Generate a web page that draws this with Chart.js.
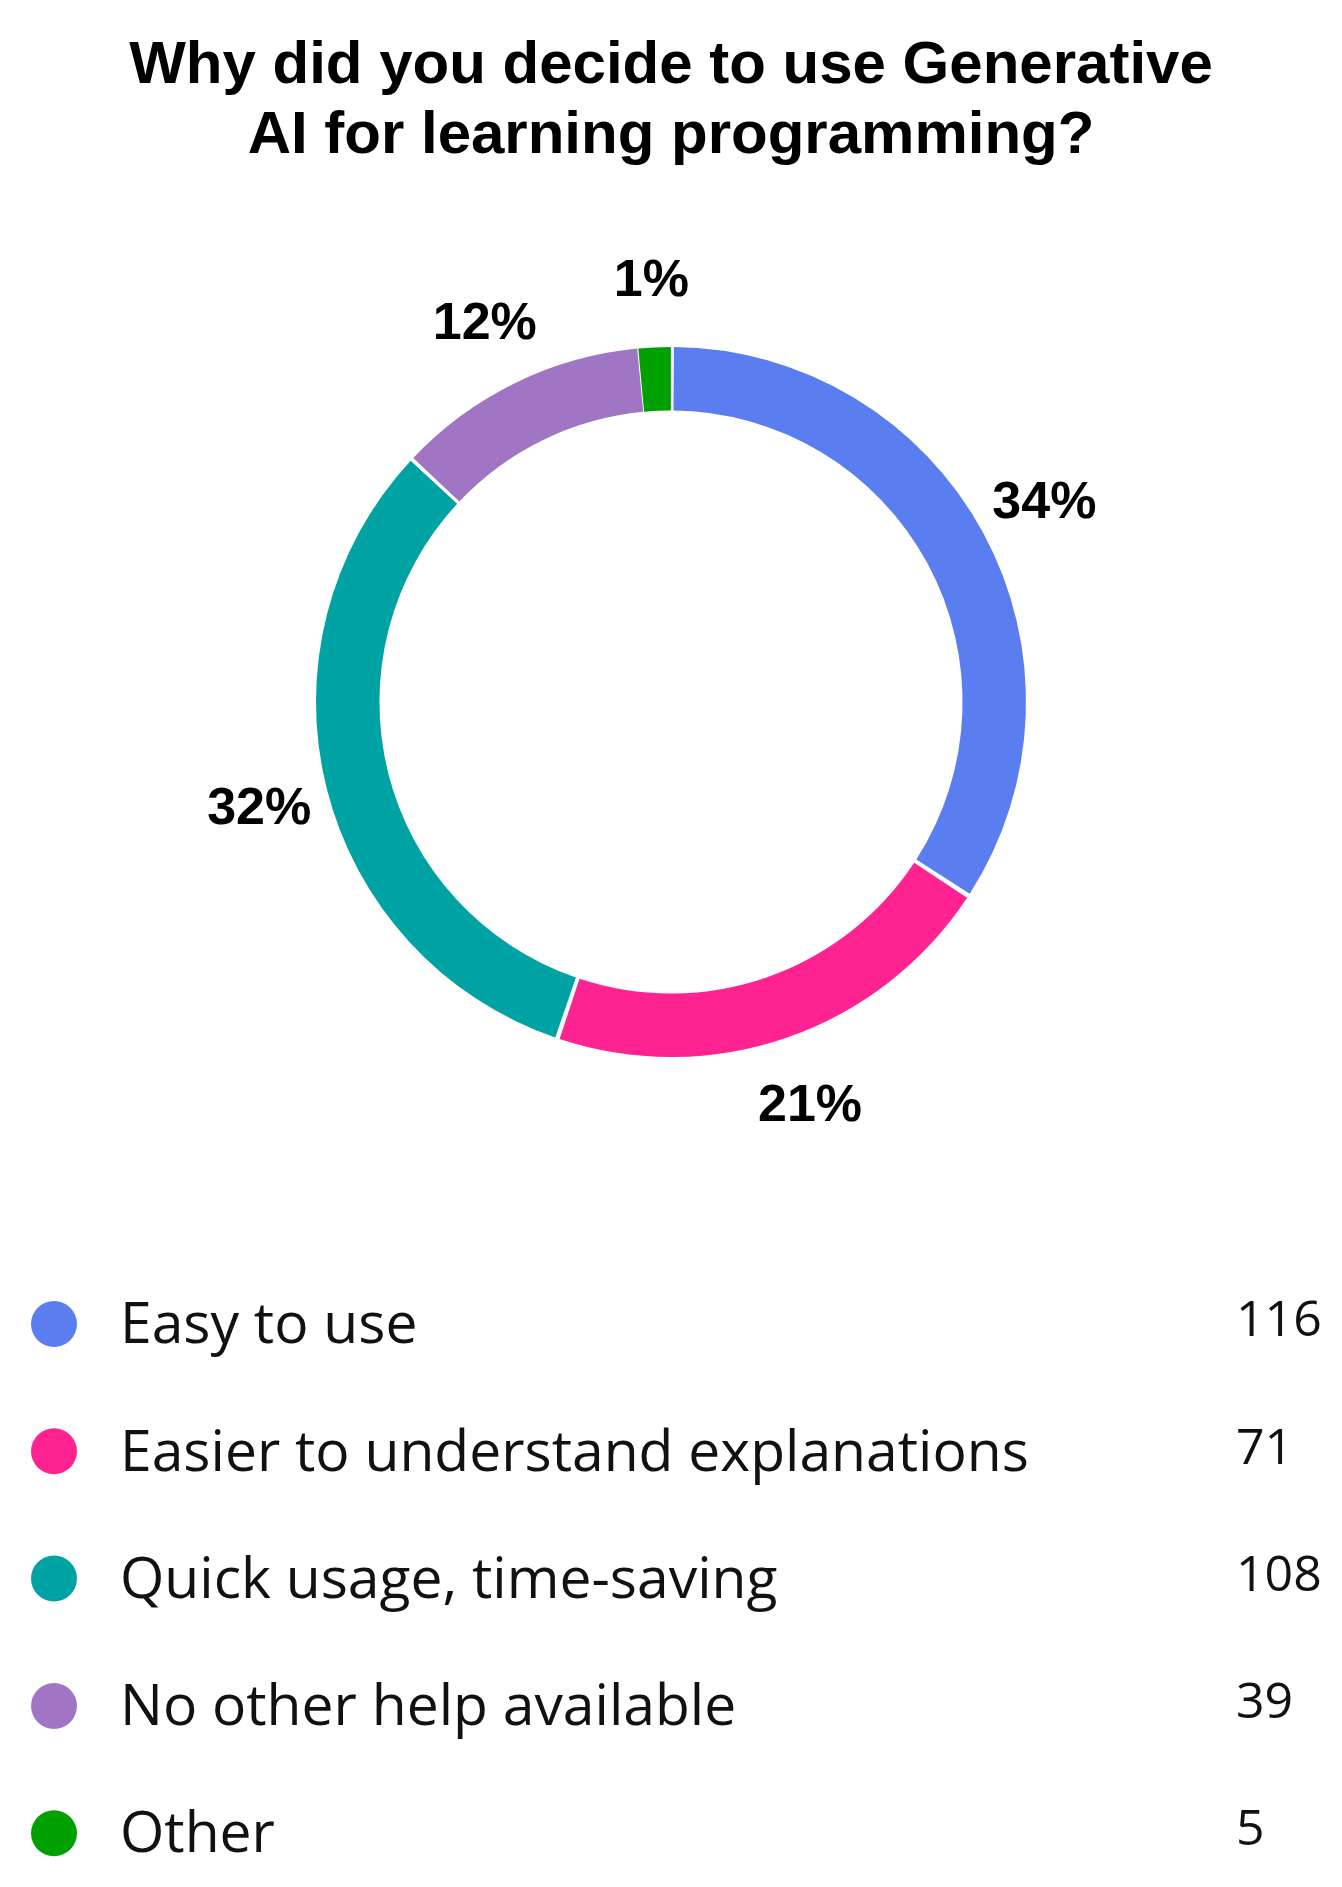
<!DOCTYPE html>
<html>
<head>
<meta charset="utf-8">
<script src="https://cdn.jsdelivr.net/npm/chart.js@4.4.1/dist/chart.umd.min.js"></script>
<style>
  html, body { margin: 0; padding: 0; background: #fff; }
  #wrap { width: 1342px; height: 1887px; position: relative; }
</style>
</head>
<body>
<div id="wrap"><canvas id="reasonChart"></canvas></div>
<script>
const titleLines = ['Why did you decide to use Generative', 'AI for learning programming?'];
const reasons = ['Easy to use', 'Easier to understand explanations', 'Quick usage, time-saving', 'No other help available', 'Other'];
const counts = [116, 71, 108, 39, 5];
const colors = ['#5A7DF0', '#FF2391', '#00A3A4', '#A076C4', '#00A000'];

const total = counts.reduce((a, b) => a + b, 0);

// percent labels outside the ring
const percentLabels = {
  id: 'percentLabels',
  afterDatasetsDraw(chart) {
    const ctx = chart.ctx;
    const meta = chart.getDatasetMeta(0);
    ctx.save();
    ctx.font = 'bold 52px "Liberation Sans", Arial, sans-serif';
    ctx.fillStyle = '#000';
    ctx.textAlign = 'center';
    ctx.textBaseline = 'middle';
    meta.data.forEach((arc, i) => {
      const p = arc.getProps(['x', 'y', 'startAngle', 'endAngle', 'outerRadius'], true);
      const mid = (p.startAngle + p.endAngle) / 2;
      const r = p.outerRadius + 72;
      const pct = Math.round(counts[i] / total * 100) + '%';
      ctx.fillText(pct, p.x + Math.cos(mid) * r, p.y + Math.sin(mid) * r + 4);
    });
    ctx.restore();
  }
};

// legend list with counts at the bottom
const listLegend = {
  id: 'listLegend',
  afterDraw(chart) {
    const ctx = chart.ctx;
    const top = 1324, step = 127.3;
    ctx.save();
    ctx.textBaseline = 'middle';
    reasons.forEach((name, i) => {
      const y = top + i * step;
      ctx.fillStyle = colors[i];
      ctx.beginPath();
      ctx.arc(54, y, 23, 0, Math.PI * 2);
      ctx.fill();
      ctx.fillStyle = '#111';
      ctx.textAlign = 'left';
      ctx.font = '57px "Open Sans", sans-serif';
      ctx.fillText(name, 120, y + 3);
      ctx.font = '50px "Open Sans", sans-serif';
      ctx.fillText(String(counts[i]), 1236, y - 2);
    });
    ctx.restore();
  }
};

const ctx = document.getElementById('reasonChart').getContext('2d');

new Chart(ctx, {
  type: 'doughnut',
  data: {
    labels: reasons,
    datasets: [{
      data: counts,
      backgroundColor: colors,
      borderWidth: 0,
      hoverOffset: 0
    }]
  },
  options: {
    responsive: true,
    maintainAspectRatio: false,
    animation: false,
    cutout: '82%',
    spacing: 5,
    layout: {
      padding: { top: 0, bottom: 830, left: 0, right: 0 }
    },
    plugins: {
      legend: { display: false },
      tooltip: { enabled: false },
      title: {
        display: true,
        text: titleLines,
        color: '#000',
        font: { family: '"Liberation Sans", Arial, sans-serif', size: 60, weight: 'bold', lineHeight: 1.1667 },
        padding: { top: 31, bottom: 176 }
      }
    }
  },
  plugins: [percentLabels, listLegend]
});
</script>
</body>
</html>
